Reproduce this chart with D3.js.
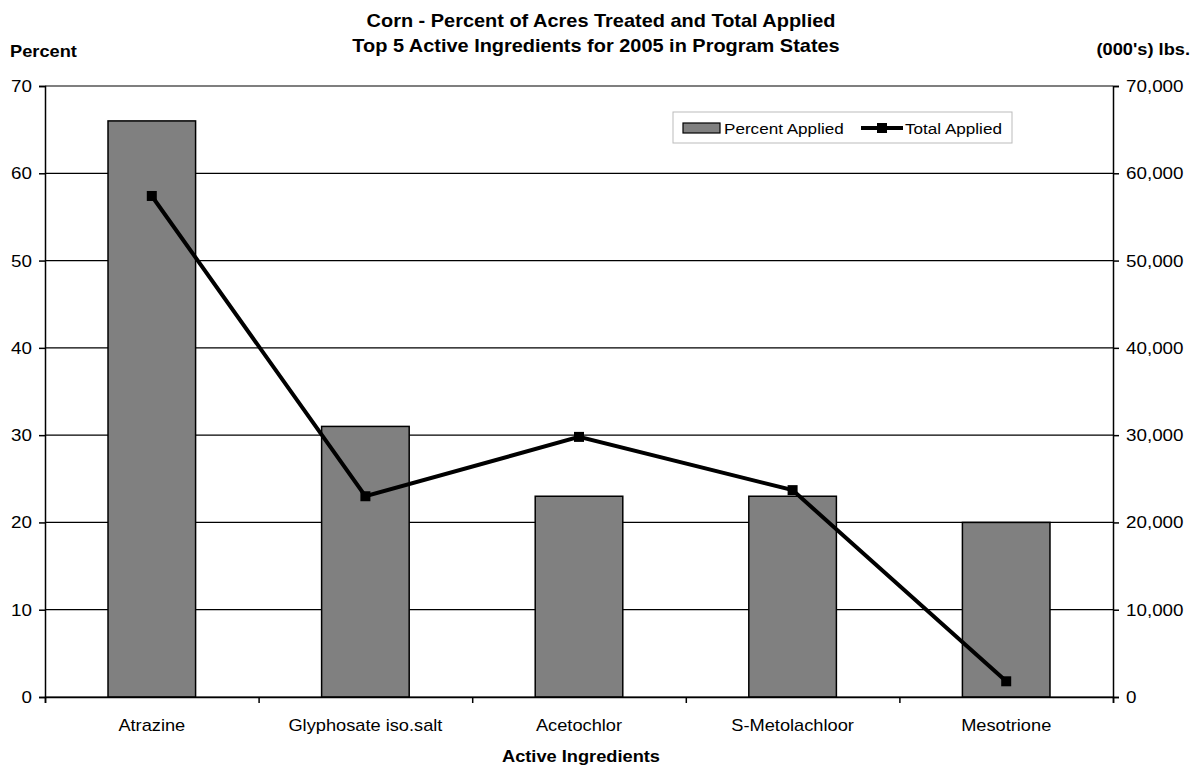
<!DOCTYPE html>
<html>
<head>
<meta charset="utf-8">
<script src="https://cdn.jsdelivr.net/npm/d3@7"></script>
<style>
  body { margin: 0; background: #fff; }
  svg { font-family: "Liberation Sans", Arial, sans-serif; }
</style>
</head>
<body>
<div class="chart"></div>
<script>
var w = 1203,
  h = 768,
  margin = { top: 86, right: 90, bottom: 71, left: 45 },
  stretch = 1.14;

// chart data
var ingredients = ['Atrazine', 'Glyphosate iso.salt', 'Acetochlor', 'S-Metolachloor', 'Mesotrione'];
var percentApplied = [66, 31, 23, 23, 20];
var totalApplied = [57400, 23000, 29800, 23700, 1800];
var leftTicks = [0, 10, 20, 30, 40, 50, 60, 70];
var rightTicks = [0, 10000, 20000, 30000, 40000, 50000, 60000, 70000];

var innerW = w - margin.left - margin.right,
  innerH = h - margin.top - margin.bottom;

var svg = d3.select('.chart')
  .append('svg')
  .attr('width', w)
  .attr('height', h);

// text helper: the original glyphs are a bit wider than Liberation Sans
var addText = function (parent, x, y, str, size, anchor, bold) {
  return parent.append('text')
    .attr('transform', 'translate(' + x + ',' + y + ') scale(' + stretch + ',1)')
    .attr('text-anchor', anchor || 'start')
    .attr('font-size', size + 'px')
    .attr('font-weight', bold ? 'bold' : 'normal')
    .attr('fill', '#000')
    .text(str);
}

var g = svg.append('g')
  .attr('transform', 'translate(' + margin.left + ',' + margin.top + ')');

var x = d3.scaleBand()
  .domain(ingredients)
  .range([0, innerW])
  .paddingInner(0.59)
  .paddingOuter(0.295);

var xBound = d3.scaleLinear()
  .domain([0, ingredients.length])
  .range([0, innerW]);

var yLeft = d3.scaleLinear().domain([0, 70]).range([innerH, 0]);
var yRight = d3.scaleLinear().domain([0, 70000]).range([innerH, 0]);

// gridlines
g.selectAll('.grid')
  .data(leftTicks)
  .enter()
  .append('line')
  .attr('x1', 0)
  .attr('x2', innerW)
  .attr('y1', function (d) { return yLeft(d); })
  .attr('y2', function (d) { return yLeft(d); })
  .attr('stroke', '#000')
  .attr('stroke-width', 1.2);

// bars
g.selectAll('.bar')
  .data(ingredients)
  .enter()
  .append('rect')
  .attr('x', function (d) { return x(d); })
  .attr('width', x.bandwidth())
  .attr('y', function (d, i) { return yLeft(percentApplied[i]); })
  .attr('height', function (d, i) { return innerH - yLeft(percentApplied[i]); })
  .attr('fill', '#808080')
  .attr('stroke', '#000')
  .attr('stroke-width', 1.5);

// axes (labels drawn separately so they can be stretched)
var leftAxis = d3.axisLeft(yLeft).tickValues(leftTicks).tickSize(6).tickFormat('');
var rightAxis = d3.axisRight(yRight).tickValues(rightTicks).tickSize(6).tickFormat('');
var bottomAxis = d3.axisBottom(xBound).tickValues(d3.range(0, ingredients.length + 1))
  .tickSize(6).tickFormat('');

g.append('g').attr('class', 'axis').call(leftAxis);
g.append('g').attr('class', 'axis')
  .attr('transform', 'translate(' + innerW + ',0)')
  .call(rightAxis);
g.append('g').attr('class', 'axis')
  .attr('transform', 'translate(0,' + innerH + ')')
  .call(bottomAxis);

g.selectAll('.axis path, .axis line')
  .attr('stroke', '#000')
  .attr('stroke-width', 1.5);

leftTicks.forEach(function (d) {
  addText(g, -13, yLeft(d) + 6, d, 16.5, 'end');
});
var fmt = d3.format(',');
rightTicks.forEach(function (d) {
  addText(g, innerW + 13, yRight(d) + 6, fmt(d), 16.5, 'start');
});

// category labels
ingredients.forEach(function (d) {
  addText(g, x(d) + x.bandwidth() / 2, innerH + 34, d, 16, 'middle');
});

// total applied line
var line = d3.line()
  .x(function (d, i) { return x(ingredients[i]) + x.bandwidth() / 2; })
  .y(function (d) { return yRight(d); });

g.append('path')
  .datum(totalApplied)
  .attr('d', line)
  .attr('fill', 'none')
  .attr('stroke', '#000')
  .attr('stroke-width', 4);

g.selectAll('.marker')
  .data(totalApplied)
  .enter()
  .append('rect')
  .attr('x', function (d, i) { return x(ingredients[i]) + x.bandwidth() / 2 - 5; })
  .attr('y', function (d) { return yRight(d) - 5; })
  .attr('width', 10)
  .attr('height', 10)
  .attr('fill', '#000');

// titles
addText(svg, 601, 27, 'Corn - Percent of Acres Treated and Total Applied', 17.5, 'middle', true);
addText(svg, 596, 52, 'Top 5 Active Ingredients for 2005 in Program States', 17.5, 'middle', true);
addText(svg, 10, 57, 'Percent', 16, 'start', true);
addText(svg, 1190, 55, "(000's) lbs.", 16, 'end', true);
addText(svg, 581, 762, 'Active Ingredients', 16, 'middle', true);

// legend
var legend = svg.append('g').attr('transform', 'translate(673,112)');
legend.append('rect')
  .attr('width', 339).attr('height', 31)
  .attr('fill', '#fff').attr('stroke', '#bbb').attr('stroke-width', 1);
legend.append('rect')
  .attr('x', 10).attr('y', 11).attr('width', 37).attr('height', 10)
  .attr('fill', '#808080').attr('stroke', '#000').attr('stroke-width', 1.2);
addText(legend, 51, 22, 'Percent Applied', 15, 'start');
legend.append('line')
  .attr('x1', 188).attr('x2', 230).attr('y1', 16).attr('y2', 16)
  .attr('stroke', '#000').attr('stroke-width', 4);
legend.append('rect')
  .attr('x', 204).attr('y', 11).attr('width', 10).attr('height', 10)
  .attr('fill', '#000');
addText(legend, 232, 22, 'Total Applied', 15, 'start');
</script>
</body>
</html>
